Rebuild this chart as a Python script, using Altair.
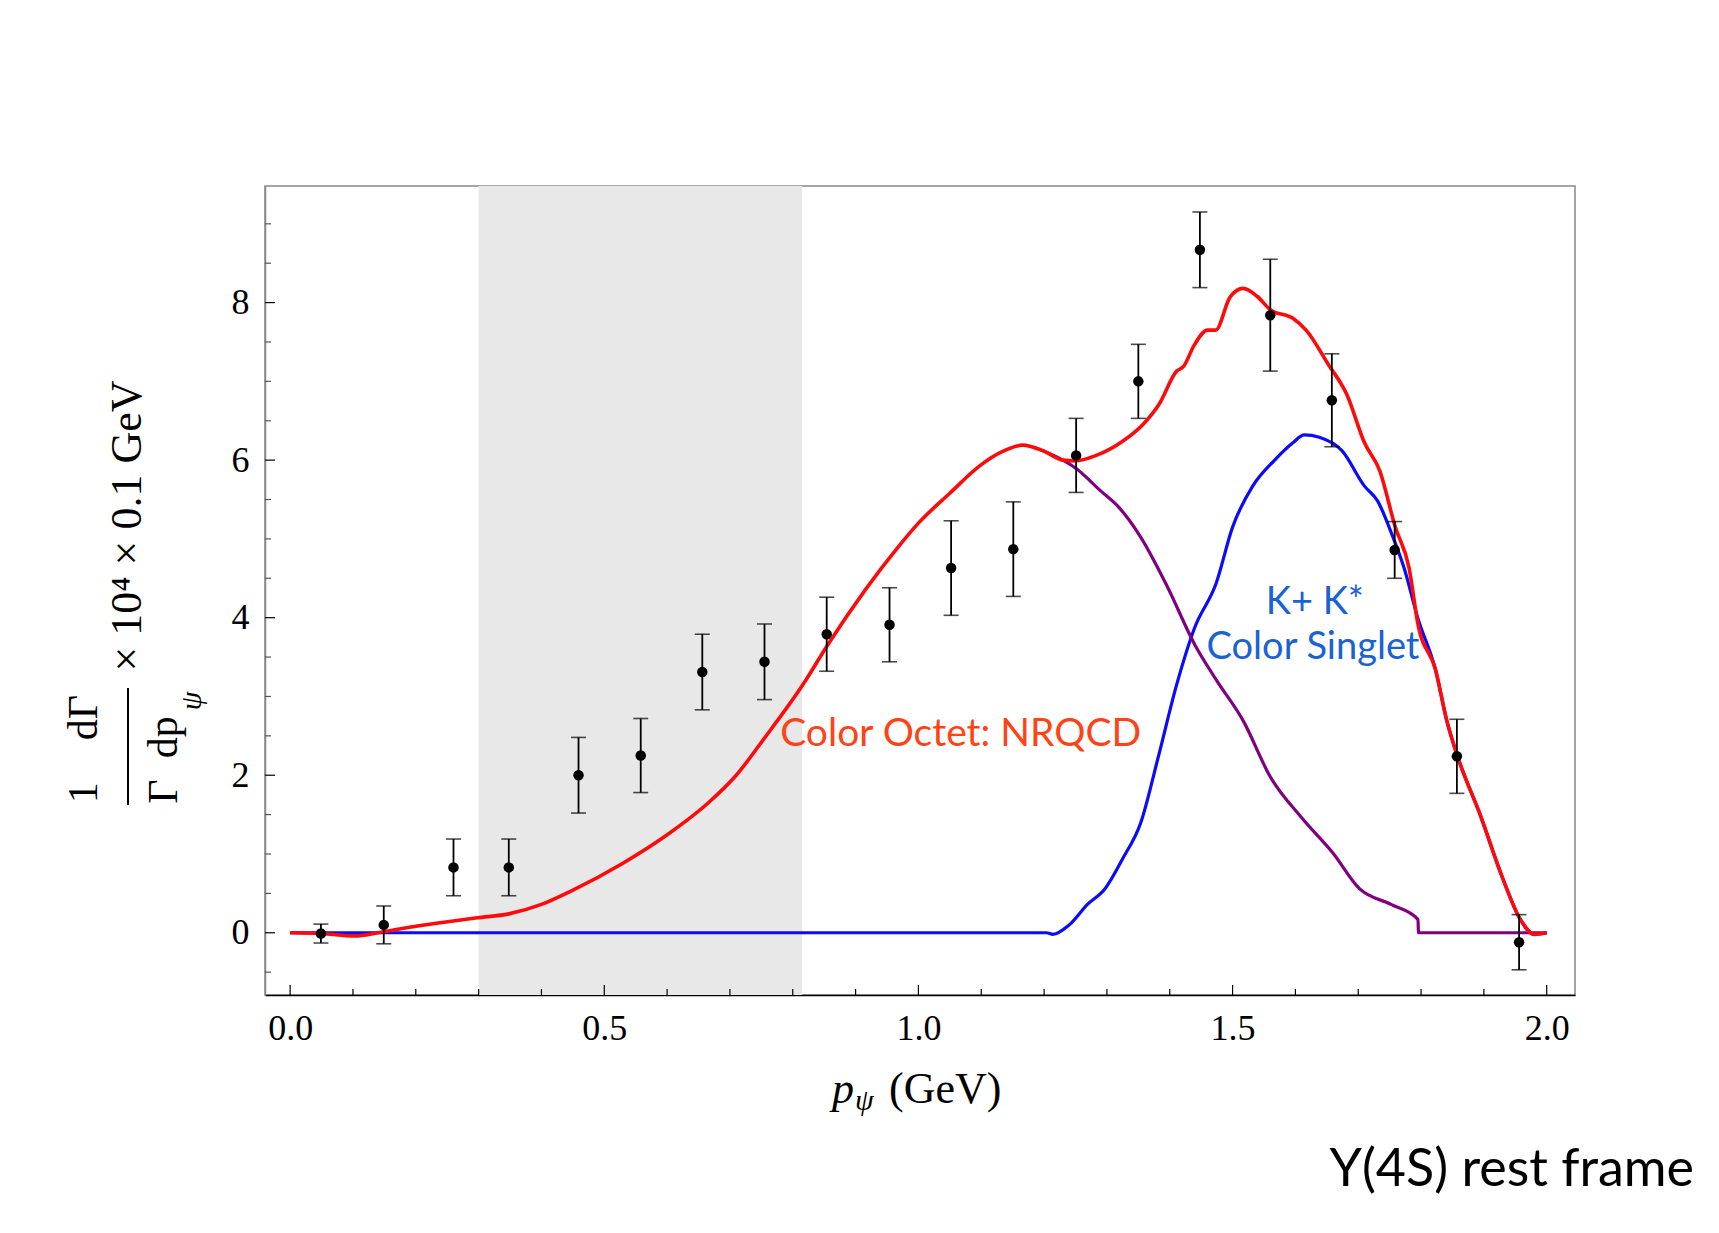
import altair as alt
import pandas as pd

# ---------------- data ----------------
pt_x = [0.049, 0.149, 0.260, 0.348, 0.459, 0.558, 0.656, 0.755, 0.854, 0.954,
        1.052, 1.151, 1.251, 1.350, 1.448, 1.560, 1.658, 1.758, 1.857, 1.956]
pt_y = [-0.01, 0.10, 0.83, 0.83, 2.00, 2.25, 3.31, 3.44, 3.79, 3.91,
        4.63, 4.87, 6.06, 7.00, 8.67, 7.84, 6.76, 4.86, 2.24, -0.12]
pt_err = [0.12, 0.24, 0.36, 0.36, 0.48, 0.47, 0.48, 0.48, 0.47, 0.47,
          0.60, 0.60, 0.47, 0.47, 0.48, 0.71, 0.59, 0.36, 0.47, 0.35]

total_x = [0.0, 0.05, 0.103, 0.14, 0.19, 0.242, 0.298, 0.348, 0.40, 0.447, 0.529, 0.603,
           0.667, 0.71, 0.753, 0.817, 0.856, 0.916, 0.966, 1.0, 1.05, 1.098, 1.134, 1.166,
           1.198, 1.230, 1.25, 1.283, 1.325, 1.357, 1.383, 1.411, 1.422, 1.439, 1.460, 1.473,
           1.496, 1.517, 1.539, 1.560, 1.596, 1.617, 1.652, 1.682, 1.710, 1.734, 1.759, 1.781,
           1.795, 1.823, 1.841, 1.858, 1.894, 1.930, 1.958, 1.980, 2.0]
total_y = [0.0, -0.01, -0.04, 0.0, 0.07, 0.13, 0.19, 0.24, 0.36, 0.53, 0.88, 1.26,
           1.66, 2.0, 2.45, 3.16, 3.66, 4.36, 4.88, 5.20, 5.58, 5.93, 6.11, 6.19,
           6.12, 6.00, 5.99, 6.06, 6.24, 6.45, 6.71, 7.13, 7.19, 7.46, 7.65, 7.65,
           8.07, 8.18, 8.08, 7.91, 7.80, 7.65, 7.22, 6.83, 6.22, 5.87, 5.15, 4.63,
           3.92, 3.34, 2.69, 2.24, 1.50, 0.69, 0.17, -0.02, 0.0]

octet_x = [1.198, 1.23, 1.25, 1.29, 1.318, 1.354, 1.397, 1.439, 1.474, 1.517, 1.560,
           1.610, 1.660, 1.702, 1.752, 1.795, 1.796, 2.0]
octet_y = [6.12, 6.0, 5.90, 5.61, 5.41, 5.02, 4.38, 3.67, 3.21, 2.69, 1.98,
           1.46, 1.01, 0.56, 0.36, 0.17, 0.0, 0.0]

singlet_x = [0.0, 1.204, 1.214, 1.240, 1.269, 1.297, 1.325, 1.354, 1.382, 1.411, 1.439,
             1.474, 1.500, 1.532, 1.567, 1.596, 1.614, 1.638, 1.674, 1.710, 1.731, 1.752,
             1.773, 1.795, 1.823, 1.841, 1.858, 1.894, 1.930, 1.958, 1.980, 2.0]
singlet_y = [0.0, 0.0, -0.02, 0.10, 0.36, 0.56, 0.94, 1.40, 2.24, 3.15, 3.86,
             4.44, 5.15, 5.67, 6.00, 6.22, 6.32, 6.29, 6.12, 5.67, 5.48, 5.09,
             4.63, 3.99, 3.34, 2.69, 2.24, 1.50, 0.69, 0.17, -0.02, 0.0]

band_range = [0.3, 0.815]

x_major = [0.0, 0.5, 1.0, 1.5, 2.0]
x_minor = [0.1, 0.2, 0.3, 0.4, 0.6, 0.7, 0.8, 0.9, 1.1, 1.2, 1.3, 1.4, 1.6, 1.7, 1.8, 1.9]
y_major = [0, 2, 4, 6, 8]
y_minor = [-0.5, 0.5, 1, 1.5, 2.5, 3, 3.5, 4.5, 5, 5.5, 6.5, 7, 7.5, 8.5, 9]

labels_in_plot = ["Color Octet: NRQCD", "K+ K*", "Color Singlet"]
labels_x = [0.78, 1.631, 1.628]
labels_y = [2.52, 4.18, 3.61]

# ---------------- chart ----------------
W, H = 1310, 809
SERIF = "Liberation Serif"

xs = alt.Scale(domain=[-0.04, 2.045], nice=False, zero=False)
ys = alt.Scale(domain=[-0.79, 9.48], nice=False, zero=False)

xax = alt.Axis(values=x_major, format=".1f", title=None, ticks=False, grid=False,
               labelFont=SERIF, labelFontSize=36, labelColor="black", labelPadding=16,
               domainColor="black", domainWidth=1.5, labelFlush=False)
yax = alt.Axis(values=y_major, format="d", title=None, ticks=False, grid=False,
               labelFont=SERIF, labelFontSize=36, labelColor="black", labelPadding=16,
               domainColor="#888888", domainWidth=1.5)


def X(f):
    return alt.X(f"{f}:Q", scale=xs, axis=xax)


def Y(f):
    return alt.Y(f"{f}:Q", scale=ys, axis=yax)


band = alt.Chart(pd.DataFrame({"a": [band_range[0]], "b": [band_range[1]]})).mark_rect(
    color="#e8e8e8").encode(x=X("a"), x2="b", y=alt.value(0), y2=alt.value(H))

df_tot = pd.DataFrame({"x": total_x, "y": total_y})
df_oct = pd.DataFrame({"x": octet_x, "y": octet_y})
df_sin = pd.DataFrame({"x": singlet_x, "y": singlet_y})

line_sin = alt.Chart(df_sin).mark_line(color="#0a0aff", strokeWidth=3.2, interpolate="monotone").encode(
    x=X("x"), y=Y("y"))
line_oct = alt.Chart(df_oct).mark_line(color="#800080", strokeWidth=3.2, interpolate="monotone").encode(
    x=X("x"), y=Y("y"))
line_tot = alt.Chart(df_tot).mark_line(color="#ff0a0a", strokeWidth=3.6, interpolate="monotone").encode(
    x=X("x"), y=Y("y"))

df_pts = pd.DataFrame({"x": pt_x, "y": pt_y, "e": pt_err})
df_pts["lo"] = df_pts["y"] - df_pts["e"]
df_pts["hi"] = df_pts["y"] + df_pts["e"]

err = alt.Chart(df_pts).mark_rule(color="black", strokeWidth=1.8).encode(
    x=X("x"), y=Y("lo"), y2="hi")
cap_lo = alt.Chart(df_pts).mark_tick(color="black", orient="horizontal", size=15, thickness=1.6).encode(
    x=X("x"), y=Y("lo"))
cap_hi = alt.Chart(df_pts).mark_tick(color="black", orient="horizontal", size=15, thickness=1.6).encode(
    x=X("x"), y=Y("hi"))
dots = alt.Chart(df_pts).mark_circle(color="black", size=110, opacity=1).encode(
    x=X("x"), y=Y("y"))

# inward ticks
tx_major = alt.Chart(pd.DataFrame({"v": x_major})).mark_rule(color="black", strokeWidth=1.2).encode(
    x=X("v"), y=alt.value(H - 10), y2=alt.value(H))
tx_minor = alt.Chart(pd.DataFrame({"v": x_minor})).mark_rule(color="black", strokeWidth=1.2).encode(
    x=X("v"), y=alt.value(H - 6), y2=alt.value(H))
ty_major = alt.Chart(pd.DataFrame({"v": y_major})).mark_rule(color="black", strokeWidth=1.2).encode(
    y=Y("v"), x=alt.value(0), x2=alt.value(10))
ty_minor = alt.Chart(pd.DataFrame({"v": y_minor})).mark_rule(color="#555555", strokeWidth=1.2).encode(
    y=Y("v"), x=alt.value(0), x2=alt.value(6))

df_lab = pd.DataFrame({"t": labels_in_plot, "x": labels_x, "y": labels_y})
lab_oct = alt.Chart(df_lab.iloc[[0]]).mark_text(
    font="Lato", fontSize=39, color="#ff4317", align="left", baseline="middle").encode(
    x=X("x"), y=Y("y"), text="t:N")
lab_sin = alt.Chart(df_lab.iloc[[1, 2]]).mark_text(
    font="Lato", fontSize=38, color="#1863d4", align="center", baseline="middle").encode(
    x=X("x"), y=Y("y"), text="t:N")

# axis titles (built from text pieces)
ytitle_num = alt.Chart(pd.DataFrame({"t": ["1\u2003d\u0393"]})).mark_text(
    font=SERIF, fontSize=42, angle=270, align="center", baseline="middle", color="black").encode(
    x=alt.value(-181), y=alt.value(563), text="t:N")
ytitle_den = alt.Chart(pd.DataFrame({"t": ["\u0393\u2002dp"]})).mark_text(
    font=SERIF, fontSize=42, angle=270, align="center", baseline="middle", color="black").encode(
    x=alt.value(-101), y=alt.value(574), text="t:N")
ytitle_sub = alt.Chart(pd.DataFrame({"t": ["\u03c8"]})).mark_text(
    font=SERIF, fontSize=30, fontStyle="italic", angle=270, align="center", baseline="middle",
    color="black").encode(x=alt.value(-73), y=alt.value(515), text="t:N")
ytitle_bar = alt.Chart(pd.DataFrame({"t": [""]})).mark_rule(color="black", strokeWidth=2).encode(
    x=alt.value(-137), y=alt.value(502), y2=alt.value(619))
ytitle_rest = alt.Chart(pd.DataFrame({"t": ["\u00d7 10\u2074 \u00d7 0.1 GeV"]})).mark_text(
    font=SERIF, fontSize=44, angle=270, align="center", baseline="middle", color="black").encode(
    x=alt.value(-137), y=alt.value(340), text="t:N")

xt_p = alt.Chart(pd.DataFrame({"t": ["p"]})).mark_text(
    font=SERIF, fontSize=44, fontStyle="italic", align="left", baseline="alphabetic",
    color="black").encode(x=alt.value(567), y=alt.value(917), text="t:N")
xt_psi = alt.Chart(pd.DataFrame({"t": ["\u03c8"]})).mark_text(
    font=SERIF, fontSize=30, fontStyle="italic", align="left", baseline="alphabetic",
    color="black").encode(x=alt.value(590), y=alt.value(924), text="t:N")
xt_gev = alt.Chart(pd.DataFrame({"t": ["(GeV)"]})).mark_text(
    font=SERIF, fontSize=44, align="left", baseline="alphabetic", color="black").encode(
    x=alt.value(624), y=alt.value(917), text="t:N")

upsilon = alt.Chart(pd.DataFrame({"t": ["\u03a5(4S) rest frame"]})).mark_text(
    font="Lato", fontSize=52, align="right", baseline="alphabetic", color="black").encode(
    x=alt.value(1429), y=alt.value(1000), text="t:N")

chart = alt.layer(
    band, ty_minor, ty_major, tx_minor, tx_major,
    line_sin, line_oct, line_tot,
    err, cap_lo, cap_hi, dots,
    lab_oct, lab_sin,
    ytitle_num, ytitle_den, ytitle_sub, ytitle_bar, ytitle_rest,
    xt_p, xt_psi, xt_gev, upsilon,
).properties(
    width=W, height=H,
    autosize=alt.AutoSizeParams(type="none"),
    padding={"left": 265, "top": 186, "right": 144, "bottom": 238},
    background="white",
).configure_view(stroke="#888888", strokeWidth=1.5)

chart.save("out.html", embed_options={"renderer": "svg", "actions": False})
